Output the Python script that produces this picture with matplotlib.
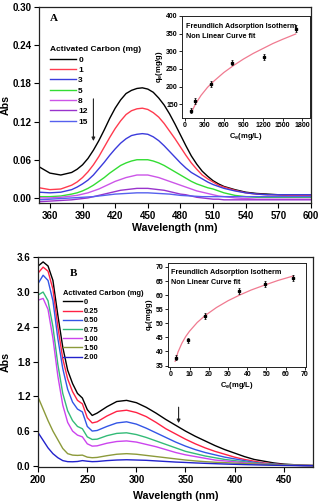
import numpy as np
import matplotlib
matplotlib.use('Agg')
from matplotlib import pyplot as plt
from matplotlib import rcParams

rcParams['font.family'] = ['Liberation Sans', 'DejaVu Sans']
rcParams['font.weight'] = 'bold'
rcParams['axes.labelweight'] = 'bold'
rcParams['mathtext.fontset'] = 'custom'
rcParams['mathtext.rm'] = 'Liberation Sans:bold'
rcParams['mathtext.bf'] = 'Liberation Sans:bold'
rcParams['mathtext.default'] = 'bf'

# ---------------- panel A : spectra ----------------
wl_a = [350, 360, 370, 380, 385, 390, 395, 400, 405, 410, 415, 420, 425, 430,
        435, 440, 445, 450, 455, 460, 465, 470, 475, 480, 485, 490, 495, 500,
        505, 510, 515, 520, 530, 540, 550, 560, 570, 580, 590, 600]
abs_a_0 = [0.049, 0.039, 0.036, 0.040, 0.045, 0.052, 0.062, 0.075, 0.090, 0.107,
           0.125, 0.141, 0.154, 0.164, 0.169, 0.172, 0.173, 0.171, 0.166, 0.157,
           0.146, 0.132, 0.116, 0.099, 0.082, 0.066, 0.053, 0.042, 0.034, 0.027,
           0.022, 0.018, 0.013, 0.009, 0.007, 0.006, 0.005, 0.0045, 0.004, 0.004]
abs_a_1 = [0.016, 0.013, 0.014, 0.020, 0.025, 0.032, 0.041, 0.052, 0.065, 0.080,
           0.095, 0.109, 0.121, 0.131, 0.137, 0.140, 0.141, 0.139, 0.134, 0.127,
           0.117, 0.105, 0.093, 0.080, 0.067, 0.055, 0.045, 0.036, 0.030, 0.025,
           0.020, 0.017, 0.012, 0.008, 0.006, 0.005, 0.005, 0.004, 0.004, 0.004]
abs_a_3 = [0.009, 0.008, 0.009, 0.013, 0.017, 0.022, 0.028, 0.036, 0.046, 0.056,
           0.067, 0.077, 0.086, 0.093, 0.098, 0.100, 0.101, 0.100, 0.096, 0.090,
           0.082, 0.073, 0.064, 0.055, 0.047, 0.040, 0.035, 0.030, 0.025, 0.021,
           0.018, 0.015, 0.011, 0.008, 0.006, 0.005, 0.005, 0.005, 0.005, 0.005]
abs_a_5 = [0.002, 0.002, 0.003, 0.006, 0.008, 0.011, 0.015, 0.020, 0.026, 0.032,
           0.039, 0.045, 0.051, 0.055, 0.058, 0.060, 0.060, 0.060, 0.058, 0.055,
           0.051, 0.046, 0.041, 0.036, 0.031, 0.026, 0.022, 0.019, 0.016, 0.014,
           0.011, 0.008, 0.004, 0.002, 0.001, 0.001, 0.001, 0.001, 0.001, 0.001]
abs_a_8 = [0.000, 0.000, 0.001, 0.003, 0.004, 0.006, 0.008, 0.011, 0.014, 0.018,
           0.022, 0.026, 0.029, 0.032, 0.034, 0.036, 0.036, 0.036, 0.034, 0.032,
           0.029, 0.026, 0.023, 0.020, 0.017, 0.014, 0.011, 0.009, 0.007, 0.005,
           0.003, 0.002, 0.000, -0.001, -0.002, -0.002, -0.002, -0.002, -0.002, -0.002]
abs_a_12 = [-0.006, -0.005, -0.004, -0.003, -0.002, -0.001, 0.000, 0.002, 0.004, 0.006,
            0.008, 0.010, 0.012, 0.013, 0.014, 0.015, 0.015, 0.015, 0.014, 0.013,
            0.012, 0.010, 0.008, 0.006, 0.005, 0.003, 0.001, 0.000, -0.001, -0.002,
            -0.002, -0.003, -0.003, -0.003, -0.003, -0.003, -0.003, -0.003, -0.003, -0.003]
abs_a_15 = [-0.003, -0.002, -0.001, 0.000, 0.0005, 0.001, 0.0015, 0.002, 0.003, 0.004,
            0.005, 0.006, 0.0065, 0.007, 0.0075, 0.008, 0.008, 0.008, 0.0075, 0.007,
            0.0065, 0.006, 0.005, 0.004, 0.0035, 0.003, 0.0025, 0.002, 0.002, 0.002,
            0.002, 0.002, 0.002, 0.002, 0.002, 0.002, 0.002, 0.002, 0.002, 0.002]
labels_a = ['0', '1', '3', '5', '8', '12', '15']
colors_a = ['#000000', '#ff3b4e', '#3b3bdc', '#33dd33', '#cc55e8', '#9933cc', '#5560ee']

# panel A inset : Freundlich isotherm
ce_a = [102, 163, 408, 729, 1219, 1708]
qe_a = [132, 160, 207, 268, 283, 364]
qe_a_err = [8, 8, 8, 8, 9, 10]
fit_ce_a = [110, 170, 250, 350, 450, 600, 750, 900, 1050, 1200, 1350, 1500, 1700]
fit_qe_a = [130, 152, 175, 198, 216, 240, 260, 278, 294, 308, 322, 334, 349]

# ---------------- panel B : spectra ----------------
wl_b = [200, 205, 210, 215, 220, 225, 230, 235, 240, 245, 250, 255, 260,
        270, 280, 290, 300, 310, 320, 330, 340, 350, 360, 370, 380, 390,
        400, 410, 420, 430, 440, 450, 460, 470, 480]
abs_b_000 = [3.45, 3.52, 3.45, 3.20, 2.60, 2.05, 1.65, 1.42, 1.25, 1.17, 0.97, 0.87, 0.91,
             1.02, 1.11, 1.13, 1.09, 1.01, 0.91, 0.80, 0.70, 0.60, 0.51, 0.43, 0.35, 0.28,
             0.22, 0.16, 0.11, 0.08, 0.05, 0.03, 0.02, 0.01, 0.005]
abs_b_025 = [3.33, 3.43, 3.36, 3.05, 2.40, 1.85, 1.50, 1.28, 1.13, 1.07, 0.83, 0.74, 0.76,
             0.86, 0.94, 0.96, 0.92, 0.85, 0.75, 0.64, 0.55, 0.46, 0.38, 0.31, 0.25, 0.20,
             0.15, 0.11, 0.08, 0.05, 0.035, 0.02, 0.012, 0.008, 0.005]
abs_b_050 = [3.15, 3.29, 3.20, 2.85, 2.20, 1.68, 1.32, 1.10, 0.98, 0.93, 0.68, 0.60, 0.61,
             0.68, 0.74, 0.76, 0.72, 0.65, 0.57, 0.49, 0.41, 0.34, 0.28, 0.23, 0.19, 0.15,
             0.12, 0.09, 0.06, 0.04, 0.03, 0.018, 0.010, 0.006, 0.004]
abs_b_075 = [2.95, 3.00, 2.85, 2.40, 1.75, 1.25, 0.95, 0.78, 0.68, 0.64, 0.50, 0.455, 0.46,
             0.52, 0.56, 0.57, 0.54, 0.49, 0.43, 0.37, 0.31, 0.25, 0.21, 0.17, 0.14, 0.11,
             0.09, 0.07, 0.05, 0.035, 0.025, 0.015, 0.010, 0.006, 0.004]
abs_b_100 = [2.86, 2.89, 2.70, 2.20, 1.55, 1.05, 0.75, 0.60, 0.53, 0.50, 0.38, 0.34, 0.345,
             0.39, 0.42, 0.43, 0.41, 0.37, 0.33, 0.28, 0.23, 0.19, 0.16, 0.13, 0.10, 0.085,
             0.07, 0.055, 0.04, 0.03, 0.02, 0.012, 0.008, 0.005, 0.003]
abs_b_150 = [1.18, 0.98, 0.78, 0.60, 0.45, 0.30, 0.21, 0.185, 0.18, 0.185, 0.15, 0.14, 0.145,
             0.175, 0.20, 0.21, 0.20, 0.18, 0.16, 0.14, 0.12, 0.10, 0.085, 0.072, 0.062, 0.055,
             0.047, 0.04, 0.033, 0.026, 0.02, 0.015, 0.010, 0.007, 0.005]
abs_b_200 = [0.57, 0.44, 0.31, 0.21, 0.14, 0.09, 0.072, 0.07, 0.075, 0.09, 0.08, 0.072, 0.075,
             0.09, 0.10, 0.105, 0.10, 0.095, 0.085, 0.075, 0.065, 0.058, 0.05, 0.043, 0.037, 0.031,
             0.026, 0.021, 0.017, 0.013, 0.010, 0.007, 0.005, 0.003, 0.002]
labels_b = ['0', '0.25', '0.50', '0.75', '1.00', '1.50', '2.00']
colors_b = ['#000000', '#ff2244', '#3355e6', '#33bb77', '#cc44ee', '#8c9a3a', '#2222cc']

# panel B inset
ce_b = [3, 9, 18, 35.5, 49, 64]
qe_b = [37.8, 44.0, 52.7, 61.5, 64.0, 66.0]
qe_b_err = [0.8, 0.9, 1.0, 1.0, 1.1, 1.1]
fit_ce_b = [2.5, 4, 6, 8, 10, 14, 18, 24, 30, 36, 42, 48, 56, 64]
fit_qe_b = [36.5, 39.8, 42.9, 45.3, 47.2, 50.3, 52.7, 55.6, 58.0, 60.0, 61.8, 63.3, 65.2, 66.8]

# arrows (data coordinates: x, y_start, y_end)
arrow_a = (400, 0.160, 0.085)
arrow_b = (343, 1.06, 0.69)

FIT_COLOR = '#f07a90'


def style_main(ax):
    for s in ax.spines.values():
        s.set_linewidth(0.9)
        s.set_color('#222222')
    ax.tick_params(direction='out', length=3.5, width=0.8, labelsize=7, pad=2,
                   top=False, right=False)


def style_inset(ax):
    for s in ax.spines.values():
        s.set_linewidth(0.7)
        s.set_color('#222222')
    ax.tick_params(direction='out', length=2, width=0.6, labelsize=5, pad=1,
                   top=False, right=False)


def make_legend(ax, handles, labels, anchor, size, hlen, lspace):
    leg = ax.legend(handles, labels, title='Activated Carbon (mg)', frameon=False,
                    loc='upper left', bbox_to_anchor=anchor, borderpad=0,
                    borderaxespad=0, handlelength=hlen, handletextpad=0.3,
                    labelspacing=lspace, prop={'size': size, 'weight': 'bold'},
                    title_fontproperties={'size': size, 'weight': 'bold'},
                    alignment='left')
    return leg


fig = plt.figure(figsize=(3.2, 5.03), dpi=100)

# ---------------- top panel ----------------
ax1 = fig.add_axes([0.1219, 0.5964, 0.850, 0.3897])
series_a = [abs_a_0, abs_a_1, abs_a_3, abs_a_5, abs_a_8, abs_a_12, abs_a_15]
hs = []
for ys, c in zip(series_a, colors_a):
    h, = ax1.plot(wl_a, ys, color=c, lw=1.0)
    hs.append(h)
ax1.set_xlim(350, 600)
ax1.set_ylim(-0.008, 0.30)
ax1.set_xticks(np.arange(360, 601, 30))
ax1.set_yticks(np.arange(0, 0.301, 0.06))
ax1.yaxis.set_major_formatter(plt.FormatStrFormatter('%.2f'))
style_main(ax1)
ax1.set_xlabel('Wavelength (nm)', fontsize=7.7, labelpad=1.5)
ax1.set_ylabel('Abs', fontsize=7.7)
ax1.yaxis.set_label_coords(-0.105, 0.5)
ax1.text(0.055, 0.94, 'A', transform=ax1.transAxes, fontsize=8,
         family='Liberation Serif', weight='bold', ha='center', va='center')
make_legend(ax1, hs, labels_a, (0.04, 0.80), 6, 3.1, 0.3)
ax1.annotate('', xy=(arrow_a[0], arrow_a[2]), xytext=(arrow_a[0], arrow_a[1]),
             arrowprops=dict(arrowstyle='-|>', color='#222222', lw=0.8,
                             mutation_scale=5))

ins1 = fig.add_axes([0.569, 0.7654, 0.400, 0.2028])
ins1.plot(fit_ce_a, fit_qe_a, color=FIT_COLOR, lw=0.9)
ins1.errorbar(ce_a, qe_a, yerr=qe_a_err, fmt='s', color='k', ms=1.8,
              elinewidth=0.6, capsize=1.0, capthick=0.5)
ins1.set_xlim(-40, 1920)
ins1.set_ylim(111, 400)
ins1.set_xticks(np.arange(0, 1801, 300))
ins1.set_yticks(np.arange(150, 401, 50))
style_inset(ins1)
ins1.set_xlabel(r'C$_e$(mg/L)', fontsize=5.5, labelpad=1)
ins1.set_ylabel(r'q$_e$(mg/g)', fontsize=5.5, labelpad=1)
ins1.text(0.03, 0.93, 'Freundlich Adsorption Isotherm\nNon Linear Curve fit',
          transform=ins1.transAxes, fontsize=5.2, weight='bold', va='top',
          ha='left', linespacing=1.5)

# ---------------- bottom panel ----------------
ax2 = fig.add_axes([0.1194, 0.0716, 0.859, 0.4169])
series_b = [abs_b_000, abs_b_025, abs_b_050, abs_b_075, abs_b_100, abs_b_150, abs_b_200]
hs = []
for ys, c in zip(series_b, colors_b):
    h, = ax2.plot(wl_b, ys, color=c, lw=1.0)
    hs.append(h)
ax2.set_xlim(200, 480)
ax2.set_ylim(-0.02, 3.6)
ax2.set_xticks(np.arange(200, 451, 50))
ax2.set_yticks(np.arange(0, 3.61, 0.6))
ax2.yaxis.set_major_formatter(plt.FormatStrFormatter('%.1f'))
style_main(ax2)
ax2.set_xlabel('Wavelength (nm)', fontsize=7.7, labelpad=4.5)
ax2.set_ylabel('Abs', fontsize=7.7)
ax2.yaxis.set_label_coords(-0.1, 0.5)
ax2.text(0.13, 0.925, 'B', transform=ax2.transAxes, fontsize=8,
         family='Liberation Serif', weight='bold', ha='center', va='center')
make_legend(ax2, hs, labels_b, (0.09, 0.845), 5.4, 2.5, 0.26)
ax2.annotate('', xy=(arrow_b[0], arrow_b[2]), xytext=(arrow_b[0], arrow_b[1]),
             arrowprops=dict(arrowstyle='-|>', color='#222222', lw=0.8,
                             mutation_scale=5))

ins2 = fig.add_axes([0.525, 0.2704, 0.431, 0.2068])
ins2.plot(fit_ce_b, fit_qe_b, color=FIT_COLOR, lw=0.9)
ins2.errorbar(ce_b, qe_b, yerr=qe_b_err, fmt='s', color='k', ms=1.8,
              elinewidth=0.6, capsize=1.0, capthick=0.5)
ins2.set_xlim(-1.2, 70.5)
ins2.set_ylim(34.5, 71.4)
ins2.set_xticks(np.arange(0, 71, 10))
ins2.set_yticks(np.arange(35, 71, 5))
style_inset(ins2)
ins2.set_xlabel(r'C$_e$(mg/L)', fontsize=5.5, labelpad=1)
ins2.set_ylabel(r'q$_e$(mg/g)', fontsize=5.5, labelpad=1)
ins2.text(0.02, 0.94, 'Freundlich Adsorption Isotherm\nNon Linear Curve fit',
          transform=ins2.transAxes, fontsize=5.2, weight='bold', va='top',
          ha='left', linespacing=1.5)

fig.savefig('out.png', dpi=100)
